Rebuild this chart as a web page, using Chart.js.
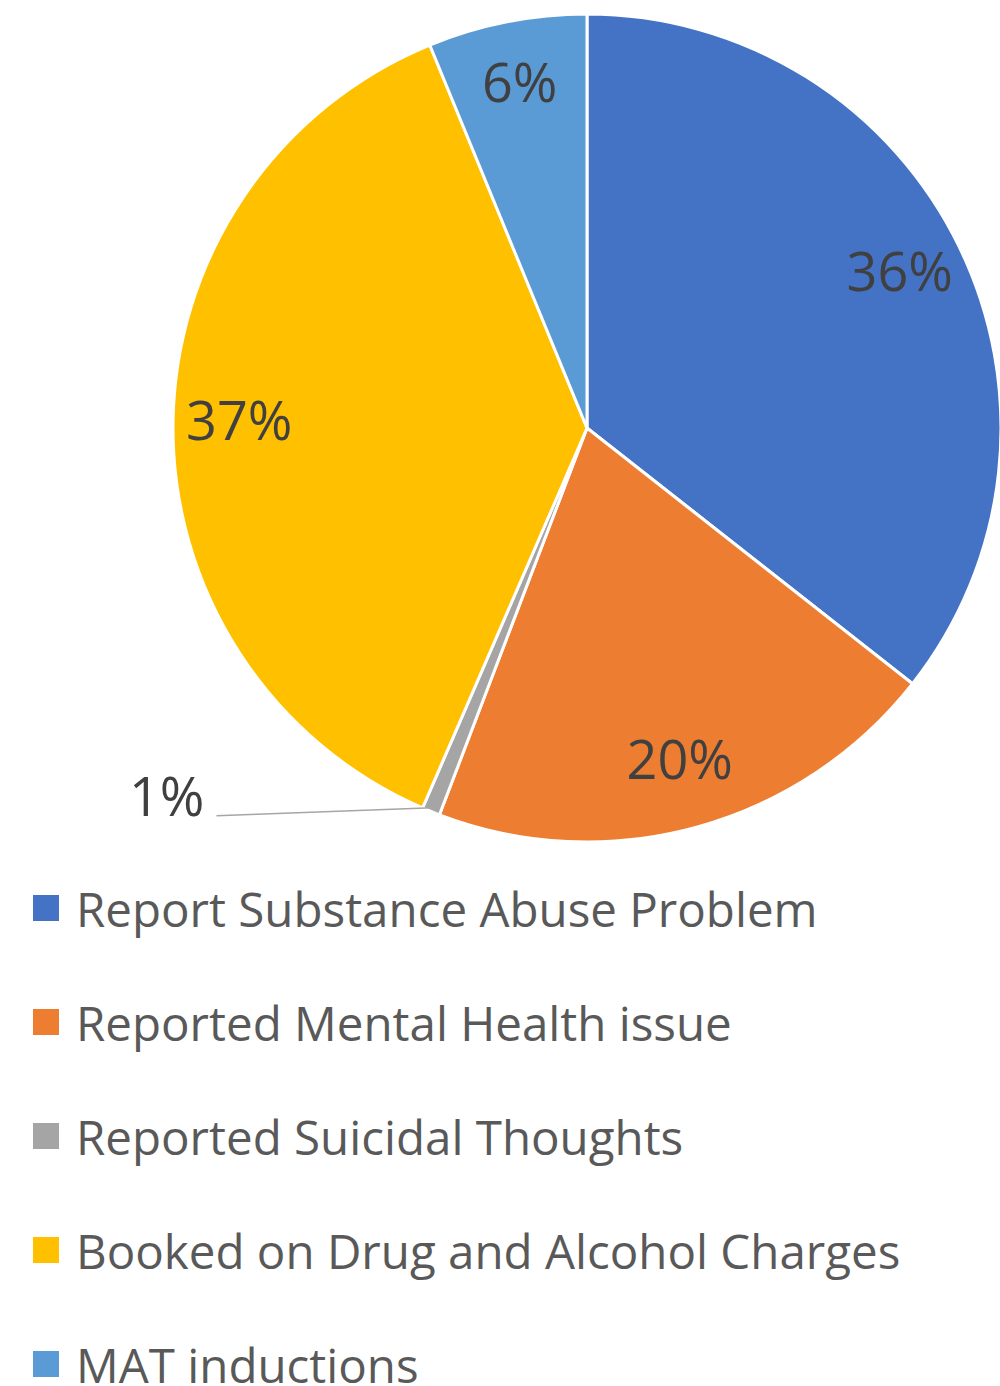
<!DOCTYPE html>
<html>
<head>
<meta charset="utf-8">
<script src="https://cdn.jsdelivr.net/npm/chart.js@4.4.1/dist/chart.umd.min.js"></script>
<style>
    body { margin: 0; background: #fff; font-family: 'Open Sans', sans-serif; }
    .chart_box { position: relative; width: 1000px; height: 851px; }
    .legend { list-style: none; margin: 0; padding: 0; }
    .legend li { display: flex; align-items: center; height: 114px; padding-left: 33px; color: #595959; font-size: 47.5px; white-space: nowrap; }
    .legend span.box { display: inline-block; width: 26px; height: 26px; margin-right: 17px; }
</style>
</head>
<body>
<div class="chart_box"><canvas id="pieChart"></canvas></div>
<ul class="legend" id="pieLegend"></ul>

<script>
// values (percent of total)
const categories = [
    'Report Substance Abuse Problem',
    'Reported Mental Health issue',
    'Reported Suicidal Thoughts',
    'Booked on Drug and Alcohol Charges',
    'MAT inductions'
];
const values = [35.6, 20.2, 0.7, 37.3, 6.2];
const colors = ['#4472C4', '#ED7D31', '#A5A5A5', '#FFC000', '#5B9BD5'];

// percent labels drawn on the slices
const pieLabels = {
    id: 'pieLabels',
    afterDatasetsDraw(chart) {
        const ctx = chart.ctx;
        const meta = chart.getDatasetMeta(0);
        const total = values.reduce((a, b) => a + b, 0);
        ctx.save();
        ctx.font = '54px "Open Sans"';
        ctx.fillStyle = '#404040';
        meta.data.forEach((arc, i) => {
            const text = Math.round(values[i] / total * 100) + '%';
            const mid = (arc.startAngle + arc.endAngle) / 2;
            if (values[i] < 2) {
                // small slice: label outside with a leader line
                const ex = arc.x + Math.cos(mid) * (arc.outerRadius - 4);
                const ey = arc.y + Math.sin(mid) * (arc.outerRadius - 4);
                const lx = ex - 216, ly = ey + 8;
                ctx.strokeStyle = '#A6A6A6';
                ctx.lineWidth = 1.5;
                ctx.beginPath();
                ctx.moveTo(ex, ey);
                ctx.lineTo(lx, ly);
                ctx.stroke();
                ctx.textAlign = 'right';
                ctx.textBaseline = 'alphabetic';
                ctx.fillText(text, lx - 12, ly);
            } else {
                const r = arc.outerRadius * 0.84;
                ctx.textAlign = 'center';
                ctx.textBaseline = 'middle';
                ctx.fillText(text, arc.x + Math.cos(mid) * r, arc.y + Math.sin(mid) * r);
            }
        });
        ctx.restore();
    }
};

new Chart(document.getElementById('pieChart'), {
    type: 'pie',
    data: {
        labels: categories,
        datasets: [{
            data: values,
            backgroundColor: colors,
            borderColor: '#ffffff',
            borderWidth: 3,
            radius: 414
        }]
    },
    options: {
        responsive: true,
        maintainAspectRatio: false,
        animation: false,
        layout: {
            padding: { left: 174, right: 0, top: 14, bottom: 9 }
        },
        plugins: {
            legend: { display: false },
            tooltip: { enabled: false }
        }
    },
    plugins: [pieLabels]
});

// legend below the pie
let legend = document.getElementById('pieLegend');
categories.forEach((name, idx) => {
    let li = document.createElement('li');
    li.innerHTML = "<span class='box' style='background:" + colors[idx] + "'></span>" + name;
    legend.appendChild(li);
});
</script>
</body>
</html>
